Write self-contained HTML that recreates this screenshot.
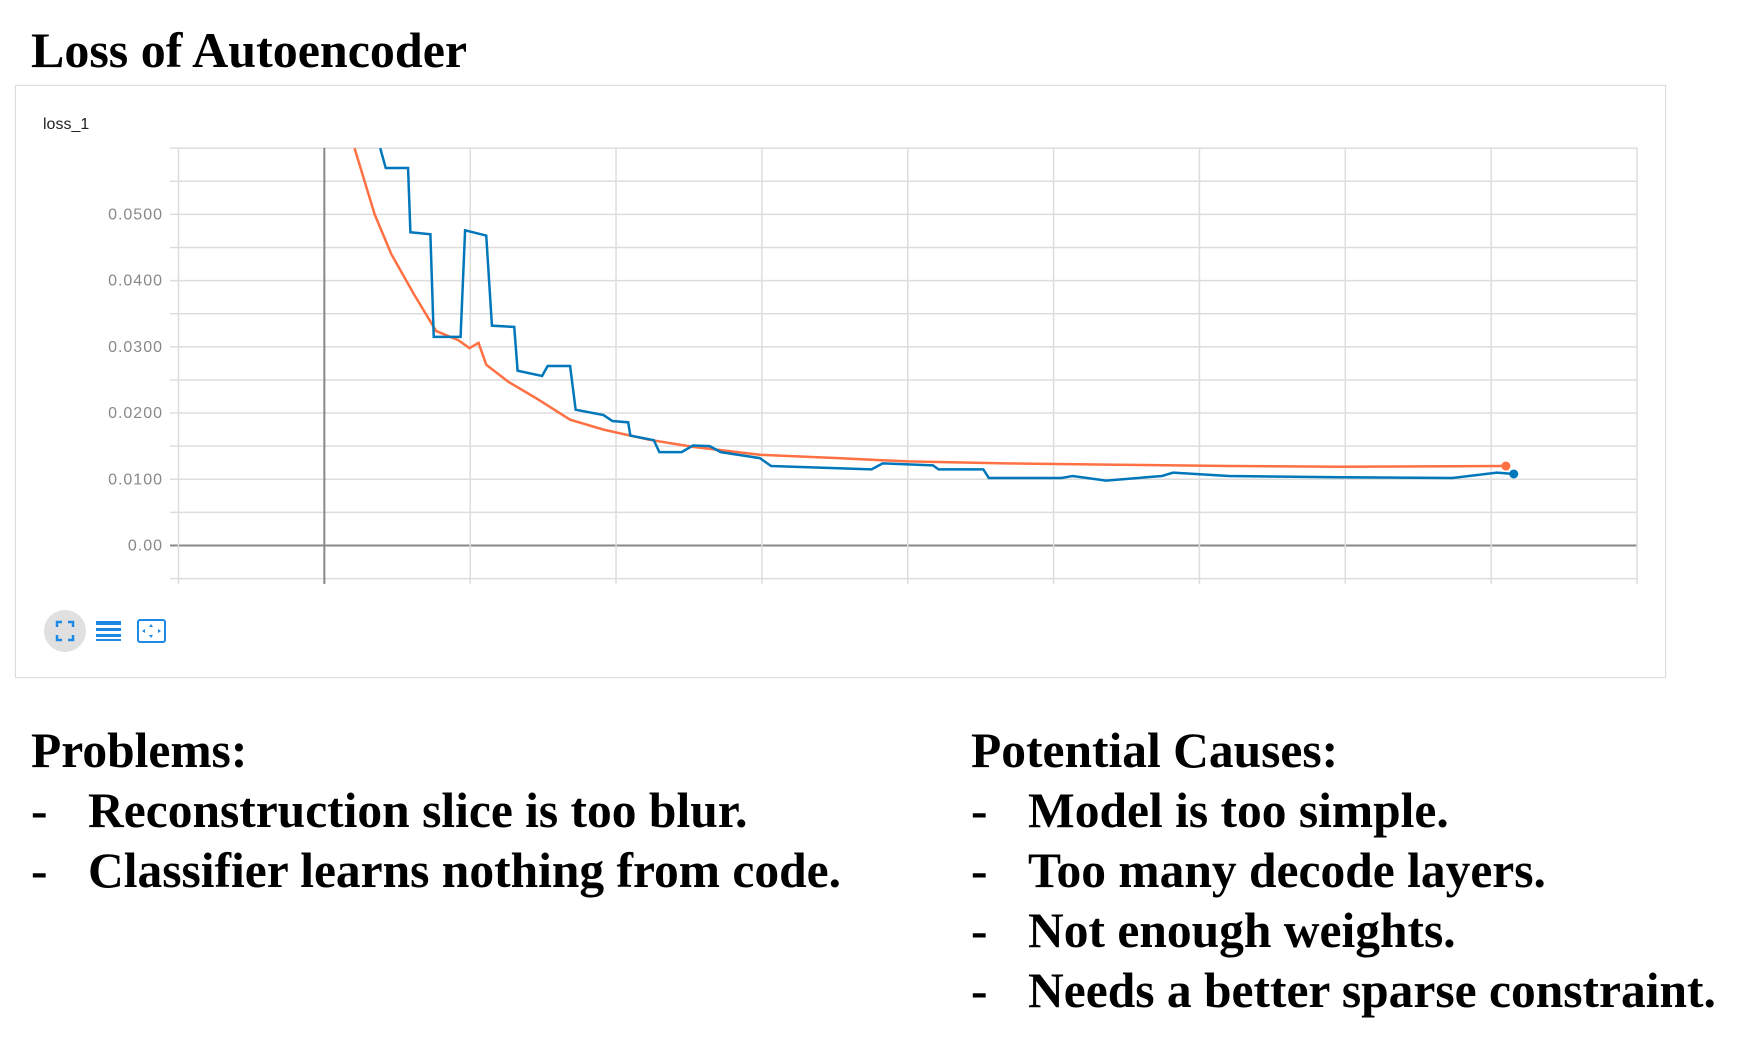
<!DOCTYPE html>
<html><head><meta charset="utf-8"><style>
body{margin:0;width:1751px;height:1048px;background:#fff;position:relative;overflow:hidden;font-family:"Liberation Serif",serif;}
.t{position:absolute;font-weight:bold;font-size:49.5px;color:#000;white-space:nowrap;line-height:1;}
#card{position:absolute;left:15px;top:85px;width:1649px;height:591px;border:1px solid #ddd;box-shadow:0 0 2px rgba(0,0,0,.08);}
</style></head><body>
<div class="t" style="left:31px;top:25px;font-size:50px;">Loss of Autoencoder</div>
<div id="card"></div>
<svg id="chart" width="1751" height="1048" style="position:absolute;left:0;top:0;">
<text x="43" y="129" font-family="Liberation Sans, sans-serif" font-size="16" fill="#222">loss_1</text>
<g id="grid"></g><g id="series"></g>
<circle cx="65" cy="631" r="21" fill="#e0e0e0"/>
<g stroke="#1e88e5" stroke-width="2.5" fill="none">
<path d="M57 627v-5h5M68 622h5v5M73 635v5h-5M62 640h-5v-5"/></g>
<g fill="#1e88e5"><rect x="96" y="621" width="25" height="4"/><rect x="96" y="628" width="25" height="3"/><rect x="96" y="634" width="25" height="3"/><rect x="96" y="639" width="25" height="2"/></g>
<g><rect x="138" y="620" width="27" height="22" rx="2" fill="none" stroke="#1e88e5" stroke-width="2"/><path d="M151 624l2 3h-4zM151 638l2-3h-4zM142 631l3 2v-4zM161 631l-3 2v-4z" fill="#1e88e5"/></g>
</svg>
<div class="t" style="left:31px;top:726px;">Problems:</div>
<div class="t" style="left:31px;top:786px;">-<span style="position:absolute;left:57px">Reconstruction slice is too blur.</span></div>
<div class="t" style="left:31px;top:846px;">-<span style="position:absolute;left:57px">Classifier learns nothing from code.</span></div>
<div class="t" style="left:971px;top:726px;">Potential Causes:</div>
<div class="t" style="left:971px;top:786px;">-<span style="position:absolute;left:57px">Model is too simple.</span></div>
<div class="t" style="left:971px;top:846px;">-<span style="position:absolute;left:57px">Too many decode layers.</span></div>
<div class="t" style="left:971px;top:906px;">-<span style="position:absolute;left:57px">Not enough weights.</span></div>
<div class="t" style="left:971px;top:966px;">-<span style="position:absolute;left:57px">Needs a better sparse constraint.</span></div>
<script>
const yTicks=[0,0.01,0.02,0.03,0.04,0.05];
const yTickLabels=["0.00","0.0100","0.0200","0.0300","0.0400","0.0500"];
const orangeX=[0.207,0.345,0.459,0.613,0.766,0.919,0.995,1.057,1.11,1.263,1.455,1.685,1.914,2.22,2.527,2.986,3.522,3.997,4.671,5.436,6.202,6.968,8.101];
const orangeY=[0.06,0.05,0.044,0.038,0.0324,0.031,0.0298,0.0306,0.0273,0.0247,0.0222,0.019,0.0175,0.016,0.0149,0.0137,0.0132,0.0127,0.0124,0.0122,0.012,0.0119,0.012];
const blueX=[0.383,0.421,0.574,0.59,0.727,0.75,0.934,0.965,1.11,1.149,1.302,1.325,1.493,1.531,1.685,1.723,1.914,1.975,2.083,2.098,2.259,2.297,2.45,2.527,2.642,2.718,2.986,3.063,3.752,3.828,4.173,4.211,4.518,4.556,5.054,5.13,5.36,5.743,5.819,6.202,6.968,7.734,8.04,8.155];
const blueY=[0.06,0.057,0.057,0.0473,0.047,0.0315,0.0315,0.0476,0.0468,0.0332,0.033,0.0264,0.0256,0.0271,0.0271,0.0205,0.0197,0.0188,0.0186,0.0166,0.0159,0.0141,0.0141,0.0151,0.015,0.0141,0.0132,0.012,0.0115,0.0124,0.0121,0.0115,0.0115,0.0102,0.0102,0.0105,0.0098,0.0105,0.011,0.0105,0.0103,0.0102,0.011,0.0108];
const L=178.5,R=1637,T=148,B=578;
const xs=s=>L+(s+1)*(R-L)/10;
const ys=v=>545.5-v*6622;
const NS="http://www.w3.org/2000/svg";
const grid=document.getElementById('grid'),ser=document.getElementById('series');
function ln(x1,y1,x2,y2,c,w){const e=document.createElementNS(NS,'line');e.setAttribute('x1',x1);e.setAttribute('y1',y1);e.setAttribute('x2',x2);e.setAttribute('y2',y2);e.setAttribute('stroke',c);e.setAttribute('stroke-width',w);grid.appendChild(e);return e;}
for(let v=-0.005;v<=0.0601;v+=0.005){
  const g=ln(170,ys(v),R,ys(v),Math.abs(v)<1e-9?'#888':'#ddd',Math.abs(v)<1e-9?2:1.5);
  
  
}
for(let i=-1;i<=9;i++){
  const g=ln(xs(i),T,xs(i),B+6,i===0?'#888':'#ddd',i===0?2:1.5);
  
  
}
yTicks.forEach((v,i)=>{const t=document.createElementNS(NS,'text');t.setAttribute('x',163);t.setAttribute('y',ys(v)+5);t.setAttribute('text-anchor','end');t.setAttribute('font-family','Liberation Sans, sans-serif');t.setAttribute('font-size','16');t.setAttribute('letter-spacing','1');t.setAttribute('fill','#888');t.textContent=yTickLabels[i];


grid.appendChild(t);});
const cp=document.createElementNS(NS,'clipPath');cp.id='clip';const cr=document.createElementNS(NS,'rect');cr.setAttribute('x',L);cr.setAttribute('y',T);cr.setAttribute('width',R-L+20);cr.setAttribute('height',B-T);cp.appendChild(cr);ser.appendChild(cp);
function series(X,Y,c,name){
  const p=document.createElementNS(NS,'polyline');
  p.setAttribute('points',X.map((x,i)=>xs(x)+','+ys(Y[i])).join(' '));
  p.setAttribute('fill','none');p.setAttribute('stroke',c);p.setAttribute('stroke-width','2.5');p.setAttribute('clip-path','url(#clip)');
  
  
  ser.appendChild(p);
  const d=document.createElementNS(NS,'circle');d.setAttribute('cx',xs(X[X.length-1]));d.setAttribute('cy',ys(Y[Y.length-1]));d.setAttribute('r',4.5);d.setAttribute('fill',c);
  
  
  ser.appendChild(d);
}
series(orangeX,orangeY,'#ff7043','orange-series');
series(blueX,blueY,'#0077bb','blue-series');
</script>
</body></html>
